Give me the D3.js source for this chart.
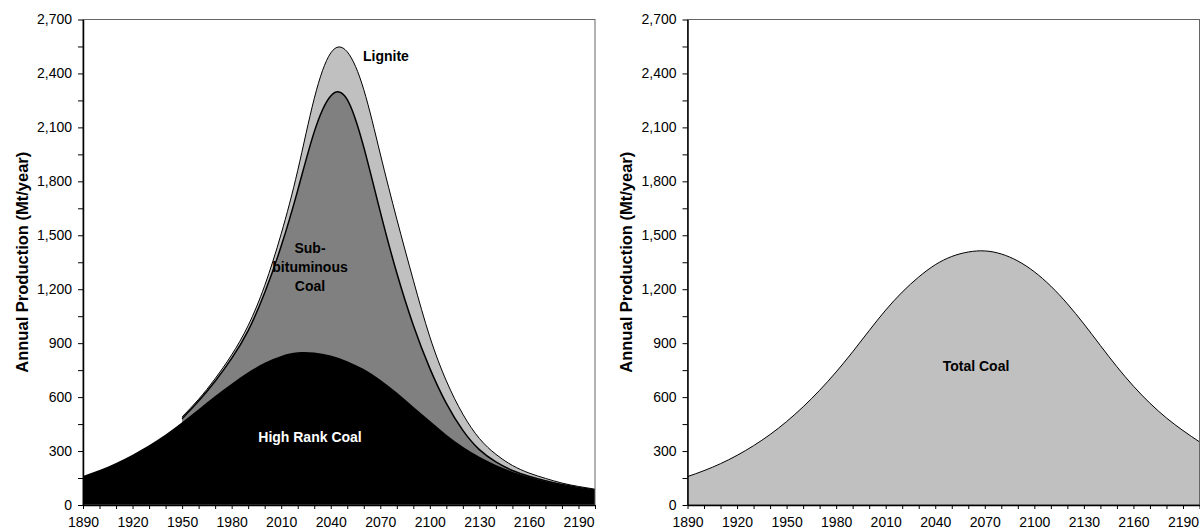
<!DOCTYPE html>
<html>
<head>
<meta charset="utf-8">
<script src="https://cdn.jsdelivr.net/npm/d3@7"></script>
<style>
  body { margin: 0; background: #fff; }
  svg { display: block; font-family: Arial, 'Liberation Sans', sans-serif; }
</style>
</head>
<body>
<svg id="chart" width="1200" height="530"></svg>
<script>
const years = [1890, 1900, 1910, 1920, 1930, 1940, 1950, 1960, 1970, 1980, 1990,
  2000, 2010, 2020, 2030, 2040, 2050, 2060, 2070, 2080, 2090, 2100,
  2110, 2120, 2130, 2140, 2150, 2160, 2170, 2180, 2190, 2200]

const highRank = [161, 194, 234, 280, 332, 392, 460, 533, 606, 675, 738,
  791, 829, 849, 848, 831, 800, 756, 697, 625, 547, 468,
  391, 324, 268, 222, 185, 156, 132, 112, 96, 83]

// sub-bituminous and lignite only start in 1950
const subBituminous = [null, null, null, null, null, null, 20, 45, 82, 140, 232,
  389, 611, 901, 1227, 1444, 1455, 1234, 933, 665, 453, 292,
  174, 91, 40, 18, 7, 4, 3, 2, 2, 1]

const lignite = [null, null, null, null, null, null, 10, 10, 15, 20, 28,
  40, 68, 110, 185, 239, 265, 320, 322, 300, 250, 175,
  125, 90, 62, 42, 28, 18, 13, 8, 5, 4]

const totalCoal = [158, 191, 230, 276, 330, 392, 464, 546, 638, 740, 852,
  970, 1084, 1184, 1268, 1336, 1382, 1407, 1413, 1396, 1357, 1297,
  1217, 1119, 1007, 887, 769, 661, 566, 484, 414, 351]

const xTicks = d3.range(1890, 2201, 10)
const xLabels = [1890, 1920, 1950, 1980, 2010, 2040, 2070, 2100, 2130, 2160, 2190]
const yTicks = d3.range(0, 2701, 150)
const yLabels = [0, 300, 600, 900, 1200, 1500, 1800, 2100, 2400, 2700]

const size = { width: 512, top: 19.5, bottom: 505 }
const yTitle = 'Annual Production (Mt/year)'
const curve = d3.curveNatural

const svg = d3.select('#chart')

const y = d3.scaleLinear()
  .domain([0, 2700])
  .range([size.bottom, size.top])

const xScale = (left) => d3.scaleLinear()
  .domain([1890, 2200])
  .range([left, left + size.width])

const xLeft = xScale(83)
const xRight = xScale(687.5)

const label = (g, x, yPos, text) => g.append('text')
  .attr('x', x)
  .attr('y', yPos)
  .attr('text-anchor', 'middle')
  .style('font-size', '14px')
  .style('font-weight', 'bold')
  .text(text)

const frame = (x) => {
  const g = svg.append('g')
  const [x0, x1] = x.range()

  g.append('rect')
    .attr('x', x0)
    .attr('y', size.top)
    .attr('width', x1 - x0)
    .attr('height', size.bottom - size.top)
    .attr('fill', 'none')
    .attr('stroke', '#666')
    .attr('stroke-width', 1)

  const xAxis = g.append('g')
    .attr('transform', `translate(0,${size.bottom})`)
    .call(d3.axisBottom(x)
      .tickValues(xTicks)
      .tickSize(4)
      .tickSizeOuter(0)
      .tickPadding(8)
      .tickFormat((d) => xLabels.includes(d) ? d : ''))

  const yAxis = g.append('g')
    .attr('transform', `translate(${x0},0)`)
    .call(d3.axisLeft(y)
      .tickValues(yTicks)
      .tickSize(5)
      .tickSizeOuter(0)
      .tickPadding(6)
      .tickFormat((d) => yLabels.includes(d) ? d3.format(',')(d) : ''))

  ;[xAxis, yAxis].forEach((a) => {
    a.select('.domain').attr('stroke', '#000').attr('stroke-width', 1.5)
    a.selectAll('.tick line').attr('stroke', '#000')
    a.selectAll('.tick text')
      .attr('fill', '#000')
      .style('font-size', '14px')
      .style('font-family', 'Arial, "Liberation Sans", sans-serif')
  })

  g.append('text')
    .attr('transform', `translate(${x0 - 55.5},${(size.top + size.bottom) / 2}) rotate(-90)`)
    .attr('text-anchor', 'middle')
    .style('font-size', '16.5px')
    .style('font-weight', 'bold')
    .text(yTitle)
}

// left panel: stacked by coal rank
const table = years.map((year, i) => ({
  year,
  high: highRank[i],
  sub: subBituminous[i],
  lignite: lignite[i]
}))

const stacked = d3.stack()
  .keys(['high', 'sub', 'lignite'])
  .value((d, key) => d[key] === null ? 0 : d[key])(table)

const fills = { high: '#000', sub: '#808080', lignite: '#c0c0c0' }
const strokes = { high: 0, sub: 1.5, lignite: 1 }

const left = svg.append('g')

// draw top layer first, each layer filled down to the axis so curves never leave gaps
stacked.slice().reverse().forEach((layer) => {
  left.append('path')
    .datum(layer)
    .attr('fill', fills[layer.key])
    .attr('d', d3.area()
      .defined((d) => d.data[layer.key] !== null)
      .curve(curve)
      .x((d) => xLeft(d.data.year))
      .y0(y(0))
      .y1((d) => y(d[1])))
})

stacked.filter((layer) => strokes[layer.key] > 0).forEach((layer) => {
  left.append('path')
    .datum(layer)
    .attr('fill', 'none')
    .attr('stroke', '#000')
    .attr('stroke-width', strokes[layer.key])
    .attr('d', d3.line()
      .defined((d) => d.data[layer.key] !== null)
      .curve(curve)
      .x((d) => xLeft(d.data.year))
      .y((d) => y(d[1])))
})

frame(xLeft)

left.append('text')
  .attr('x', 363)
  .attr('y', 61)
  .style('font-size', '14px')
  .style('font-weight', 'bold')
  .text('Lignite')

label(left, 310, 253, 'Sub-')
label(left, 310, 272, 'bituminous')
label(left, 310, 291, 'Coal')
label(left, 310, 442, 'High Rank Coal').attr('fill', '#fff')

// right panel: total
const right = svg.append('g')
const totals = years.map((year, i) => ({ year, value: totalCoal[i] }))

right.append('path')
  .datum(totals)
  .attr('fill', '#c0c0c0')
  .attr('d', d3.area()
    .curve(curve)
    .x((d) => xRight(d.year))
    .y0(y(0))
    .y1((d) => y(d.value)))

right.append('path')
  .datum(totals)
  .attr('fill', 'none')
  .attr('stroke', '#000')
  .attr('stroke-width', 1)
  .attr('d', d3.line()
    .curve(curve)
    .x((d) => xRight(d.year))
    .y((d) => y(d.value)))

frame(xRight)

label(right, 976, 371, 'Total Coal')
</script>
</body>
</html>
